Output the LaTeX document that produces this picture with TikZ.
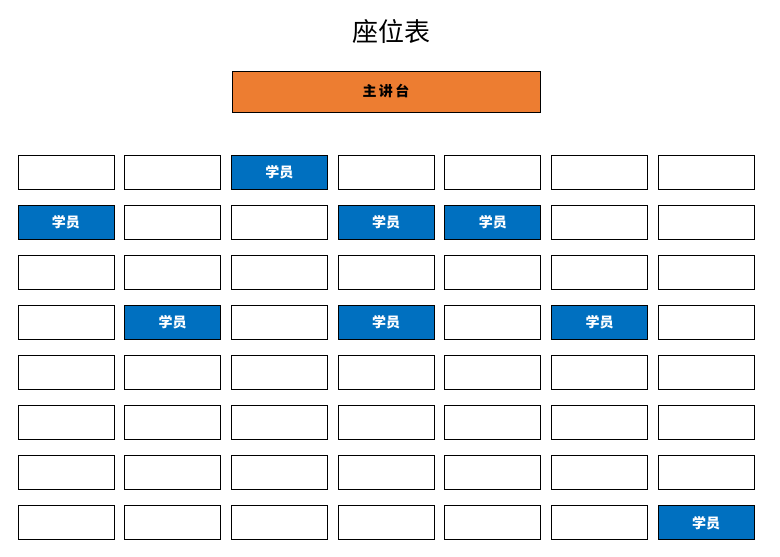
\documentclass[tikz,border=0pt]{standalone}
\usepackage{fontspec}
\newfontfamily\cjk{Noto Sans CJK SC}
\newfontfamily\cjklight{Noto Sans CJK SC Light}
\definecolor{seatblue}{HTML}{0070C0}
\definecolor{podium}{HTML}{ED7D31}
\tikzset{
  seat/.style={draw, thick, minimum width=96pt, minimum height=34pt, inner sep=0pt},
  student/.style={seat, fill=seatblue, text=white, font=\cjk\bfseries\fontsize{14}{16}\selectfont}
}
\begin{document}
\begin{tikzpicture}[x=1pt, y=-1pt]
    \useasboundingbox (0, 0) rectangle (780, 557);
    \node (title) at (391, 32) {\cjk\fontsize{26}{30}\selectfont 座位表};
    \node [draw, fill=podium, minimum width=308pt, minimum height=41pt, font=\cjk\bfseries\fontsize{14}{16}\selectfont] (podium) at (386, 91.5) {主\,讲\,台};

    % empty seats
    \foreach \r in {1,...,8}
        {
            \foreach \c in {1,...,7}
                {
                    \node [seat] (s-\r-\c) at ({66 + (\c - 1) * 106.7}, {172 + (\r - 1) * 50.1}) {};
                }
        }

    % seats taken by students
    \foreach \r/\c in {1/3, 2/1, 2/4, 2/5, 4/2, 4/4, 4/6, 8/7}
        {
            \node [student] at (s-\r-\c) {学员};
        }
\end{tikzpicture}
\end{document}
